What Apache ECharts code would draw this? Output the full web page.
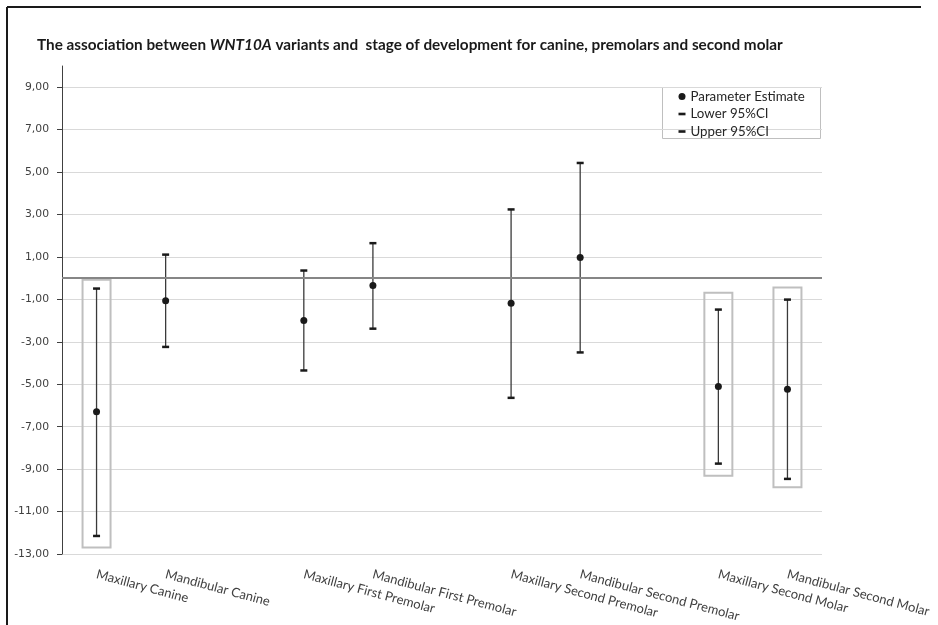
<!DOCTYPE html>
<html>
<head>
<meta charset="utf-8">
<script src="https://cdn.jsdelivr.net/npm/echarts@6/dist/echarts.min.js"></script>
<style>html,body{margin:0;padding:0;background:#fff;}#c{width:938px;height:625px;}</style>
</head>
<body>
<div id="c"></div>
<script>
const categories = ['Maxillary Canine','Mandibular Canine','','Maxillary First Premolar','Mandibular First Premolar','','Maxillary Second Premolar','Mandibular Second Premolar','','Maxillary Second Molar','Mandibular Second Molar'];
const estimate = [-6.30,-1.06,null,-1.99,-0.35,null,-1.18,0.97,null,-5.10,-5.23];
const lower95 = [-12.15,-3.24,null,-4.35,-2.38,null,-5.64,-3.50,null,-8.74,-9.46];
const upper95 = [-0.49,1.11,null,0.36,1.65,null,3.24,5.43,null,-1.48,-1.01];
const boxCategories = ['Maxillary Canine','Maxillary Second Molar','Mandibular Second Molar'];
const boxTop = [-0.07,-0.69,-0.44];
const boxBottom = [-12.69,-9.31,-9.85];
const yTicks = [-13,-11,-9,-7,-5,-3,-1,1,3,5,7,9];

const errData = [];
categories.forEach((c, i) => {
  if (lower95[i] != null && upper95[i] != null) errData.push([i, lower95[i], upper95[i]]);
});
const boxData = boxCategories.map((c, i) => [categories.indexOf(c), boxTop[i], boxBottom[i]]);

const chart = echarts.init(document.getElementById('c'), null, {renderer: 'canvas'});
const fmt = v => Number(v).toFixed(2).replace('.', ',');
const capIcon = 'path://M0,0h8v3h-8z';

chart.setOption({
  animation: false,
  backgroundColor: '#ffffff',
  title: {
    left: 37, top: 38, padding: 0,
    text: '{b|The association between }{i|WNT10A}{b| variants and  stage of development for canine, premolars and second molar}',
    textStyle: {
      rich: {
        b: {fontFamily: 'Lato', fontWeight: 'bold', fontSize: 15.3, color: '#1a1a1a'},
        i: {fontFamily: 'Lato', fontWeight: 'bold', fontStyle: 'italic', fontSize: 15.3, color: '#1a1a1a'}
      }
    }
  },
  legend: {
    orient: 'vertical', left: 678.5, top: 89.5, padding: 0,
    itemWidth: 7, itemHeight: 7, itemGap: 3.5, selectedMode: false,
    textStyle: {fontFamily: 'Lato', fontSize: 13.3, color: '#262626', lineHeight: 14},
    data: [
      {name: 'Parameter Estimate', icon: 'circle'},
      {name: 'Lower 95%CI', icon: capIcon},
      {name: 'Upper 95%CI', icon: capIcon}
    ]
  },
  graphic: [
    {type: 'line', shape: {x1: 7, y1: 7, x2: 921, y2: 7}, style: {stroke: '#1a1a1a', lineWidth: 2}, silent: true},
    {type: 'line', shape: {x1: 7, y1: 7, x2: 7, y2: 625}, style: {stroke: '#1a1a1a', lineWidth: 2}, silent: true},
    {type: 'rect', shape: {x: 662.5, y: 87.5, width: 158, height: 51}, style: {fill: 'none', stroke: '#bfbfbf', lineWidth: 1}, silent: true}
  ],
  grid: {left: 62, right: 116, top: 66, bottom: 71, containLabel: false},
  xAxis: {
    type: 'category', data: categories, position: 'bottom',
    axisLine: {show: false}, axisTick: {show: false},
    splitLine: {show: false},
    axisLabel: {interval: 0, rotate: -15, margin: 20, fontFamily: 'Lato', fontSize: 13, color: '#404040'}
  },
  yAxis: {
    type: 'value', min: -13, max: 10, interval: 1,
    axisLine: {show: true, lineStyle: {color: '#404040', width: 1}},
    axisTick: {show: true, customValues: yTicks, length: 5, lineStyle: {color: '#404040'}},
    axisLabel: {customValues: yTicks, formatter: fmt, margin: 13, fontFamily: 'DejaVu Sans', fontSize: 10.8, color: '#404040'},
    splitLine: {show: true, lineStyle: {color: '#d9d9d9', width: 1}}
  },
  series: [
    {
      name: 'box', type: 'custom', z: 1, silent: true,
      encode: {x: 0, y: [1, 2]},
      data: boxData,
      renderItem: function (params, api) {
        const top = api.coord([api.value(0), api.value(1)]);
        const bot = api.coord([api.value(0), api.value(2)]);
        const hw = 14;
        return {type: 'rect', shape: {x: top[0] - hw, y: top[1], width: hw * 2, height: bot[1] - top[1]},
          style: {fill: 'none', stroke: '#bfbfbf', lineWidth: 2}};
      }
    },
    {
      name: 'err', type: 'custom', z: 3, silent: true,
      encode: {x: 0, y: [1, 2]},
      data: errData,
      renderItem: function (params, api) {
        const lo = api.coord([api.value(0), api.value(1)]);
        const hi = api.coord([api.value(0), api.value(2)]);
        return {type: 'line', shape: {x1: lo[0], y1: lo[1], x2: hi[0], y2: hi[1]},
          style: {stroke: '#3a3a3a', lineWidth: 1.3}};
      }
    },
    {
      name: 'Parameter Estimate', type: 'scatter', z: 5, symbol: 'circle', symbolSize: 7,
      itemStyle: {color: '#1a1a1a', opacity: 1},
      data: estimate,
      markLine: {
        silent: true, symbol: 'none', label: {show: false}, animation: false,
        lineStyle: {color: '#868686', width: 2, type: 'solid'},
        emphasis: {disabled: true},
        data: [{yAxis: 0}]
      }
    },
    {
      name: 'Lower 95%CI', type: 'scatter', z: 4, symbol: 'rect', symbolSize: [7, 2.5],
      itemStyle: {color: '#1a1a1a', opacity: 1},
      data: lower95
    },
    {
      name: 'Upper 95%CI', type: 'scatter', z: 4, symbol: 'rect', symbolSize: [7, 2.5],
      itemStyle: {color: '#1a1a1a', opacity: 1},
      data: upper95
    }
  ]
});
</script>
</body>
</html>
